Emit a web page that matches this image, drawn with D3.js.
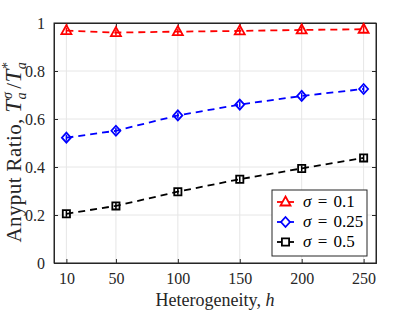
<!DOCTYPE html>
<html>
<head>
<meta charset="utf-8">
<script src="https://cdn.jsdelivr.net/npm/d3@7"></script>
<style>
  body { margin: 0; background: #fff; }
</style>
</head>
<body>
<div id="chart"></div>
<script>
// chart data
const hValues = [10, 50, 100, 150, 200, 250];
const sigma01 = [0.968, 0.960, 0.964, 0.967, 0.971, 0.974];
const sigma025 = [0.522, 0.551, 0.615, 0.660, 0.696, 0.725];
const sigma05 = [0.205, 0.238, 0.297, 0.349, 0.394, 0.438];
const xTicks = [10, 50, 100, 150, 200, 250];
const yTicks = [0, 0.2, 0.4, 0.6, 0.8, 1];
const seriesNames = ['0.1', '0.25', '0.5'];

const width = 415, height = 312;
const margin = { top: 23, right: 39, bottom: 49, left: 54 };
const innerW = width - margin.left - margin.right;
const innerH = height - margin.top - margin.bottom;
const axisColor = '#262626';
const serif = '"Liberation Serif", "Times New Roman", "DejaVu Serif"';

const series = [
  { name: seriesNames[0], values: sigma01, color: '#ff0000', marker: 'triangle' },
  { name: seriesNames[1], values: sigma025, color: '#0000ff', marker: 'diamond' },
  { name: seriesNames[2], values: sigma05, color: '#000000', marker: 'square' }
];

const svg = d3.select('#chart')
  .append('svg')
  .attr('width', width)
  .attr('height', height)
  .style('font-family', serif);

const g = svg.append('g')
  .attr('transform', `translate(${margin.left},${margin.top})`);

const x = d3.scaleLinear().domain([0, 260]).range([0, innerW]);
const y = d3.scaleLinear().domain([0, 1]).range([innerH, 0]);

// grid
g.append('g')
  .selectAll('line')
  .data(xTicks)
  .enter()
  .append('line')
  .attr('x1', d => x(d)).attr('x2', d => x(d))
  .attr('y1', 0).attr('y2', innerH)
  .attr('stroke', '#e6e6e6').attr('stroke-width', 1);

g.append('g')
  .selectAll('line')
  .data(yTicks)
  .enter()
  .append('line')
  .attr('x1', 0).attr('x2', innerW)
  .attr('y1', d => y(d)).attr('y2', d => y(d))
  .attr('stroke', '#e6e6e6').attr('stroke-width', 1);

// axes with inward ticks
g.append('g')
  .attr('transform', `translate(0,${innerH})`)
  .call(d3.axisBottom(x).tickValues(xTicks).tickSize(-4).tickPadding(10));
g.append('g')
  .call(d3.axisLeft(y).tickValues(yTicks).tickSize(-4).tickPadding(9)
    .tickFormat(d => d === 0 || d === 1 ? d3.format('d')(d) : d3.format('.1f')(d)));

// top / right ticks
g.append('g')
  .call(d3.axisTop(x).tickValues(xTicks).tickSize(-4).tickFormat(''));
g.append('g')
  .attr('transform', `translate(${innerW},0)`)
  .call(d3.axisRight(y).tickValues(yTicks).tickSize(-4).tickFormat(''));

g.selectAll('.domain').attr('stroke', axisColor).attr('stroke-width', 1);
g.selectAll('.tick line').attr('stroke', axisColor);
g.selectAll('.tick text')
  .attr('fill', axisColor)
  .style('font-family', serif)
  .style('font-size', '16px');

// box
g.append('rect')
  .attr('x', 0).attr('y', 0)
  .attr('width', innerW).attr('height', innerH)
  .attr('fill', 'none').attr('stroke', axisColor).attr('stroke-width', 1);

// marker paths
const markerPath = (type) => {
  if (type === 'triangle') return 'M0,-5.5L5,3.5L-5,3.5Z';
  if (type === 'diamond') return 'M0,-5L4.5,0L0,5L-4.5,0Z';
  return 'M-3.6,-3.6L3.6,-3.6L3.6,3.6L-3.6,3.6Z';
};

const line = d3.line()
  .x((d, i) => x(hValues[i]))
  .y(d => y(d));

series.forEach(s => {
  g.append('path')
    .datum(s.values)
    .attr('d', line)
    .attr('fill', 'none')
    .attr('stroke', s.color)
    .attr('stroke-width', 1.8)
    .attr('stroke-dasharray', '7,5');

  const pts = g.append('g')
    .selectAll('g')
    .data(s.values)
    .enter()
    .append('g')
    .attr('transform', (d, i) => `translate(${x(hValues[i])},${y(d)})`);

  // small error bar inside the marker
  pts.append('line')
    .attr('x1', 0).attr('x2', 0)
    .attr('y1', -3).attr('y2', 3)
    .attr('stroke', s.color).attr('stroke-width', 1.5);

  pts.append('path')
    .attr('d', markerPath(s.marker))
    .attr('fill', 'none')
    .attr('stroke', s.color)
    .attr('stroke-width', 1.8);
});

// axis labels
svg.append('text')
  .attr('x', margin.left + innerW / 2)
  .attr('y', 306)
  .attr('text-anchor', 'middle')
  .attr('fill', axisColor)
  .style('font-family', serif)
  .style('font-size', '18px')
  .html('Heterogeneity, <tspan font-style="italic">h</tspan>');

svg.append('text')
  .attr('transform', 'translate(21,152) rotate(-90)')
  .attr('text-anchor', 'middle')
  .attr('fill', axisColor)
  .style('font-family', serif)
  .style('font-size', '21px')
  .style('letter-spacing', '0.4px')
  .html('Anyput Ratio, <tspan font-style="italic" font-size="23px">T</tspan><tspan font-style="italic" font-size="14px" dy="5">a</tspan><tspan font-style="italic" font-size="14px" dx="-7" dy="-14">σ</tspan><tspan dy="9" dx="3">/</tspan><tspan font-style="italic" font-size="23px">T</tspan><tspan font-style="italic" font-size="14px" dy="5">a</tspan><tspan font-size="14px" dx="-7" dy="-14">*</tspan>');

// legend
const legend = svg.append('g').attr('transform', 'translate(272,190)');
legend.append('rect')
  .attr('width', 95).attr('height', 66)
  .attr('fill', '#fff')
  .attr('stroke', axisColor).attr('stroke-width', 1);

series.forEach((s, i) => {
  const row = legend.append('g').attr('transform', `translate(0,${12 + i * 20})`);
  row.append('line')
    .attr('x1', 5).attr('x2', 22)
    .attr('y1', 0).attr('y2', 0)
    .attr('stroke', s.color).attr('stroke-width', 1.8);
  row.append('path')
    .attr('transform', 'translate(13.5,0)')
    .attr('d', markerPath(s.marker))
    .attr('fill', '#fff')
    .attr('stroke', s.color)
    .attr('stroke-width', 1.8);
  row.append('text')
    .attr('x', 31).attr('y', 5)
    .attr('fill', '#000')
    .style('font-family', serif)
    .style('font-size', '17px')
    .html(`<tspan font-style="italic">σ</tspan> <tspan dx="2">=</tspan> <tspan dx="2">${s.name}</tspan>`);
});
</script>
</body>
</html>
